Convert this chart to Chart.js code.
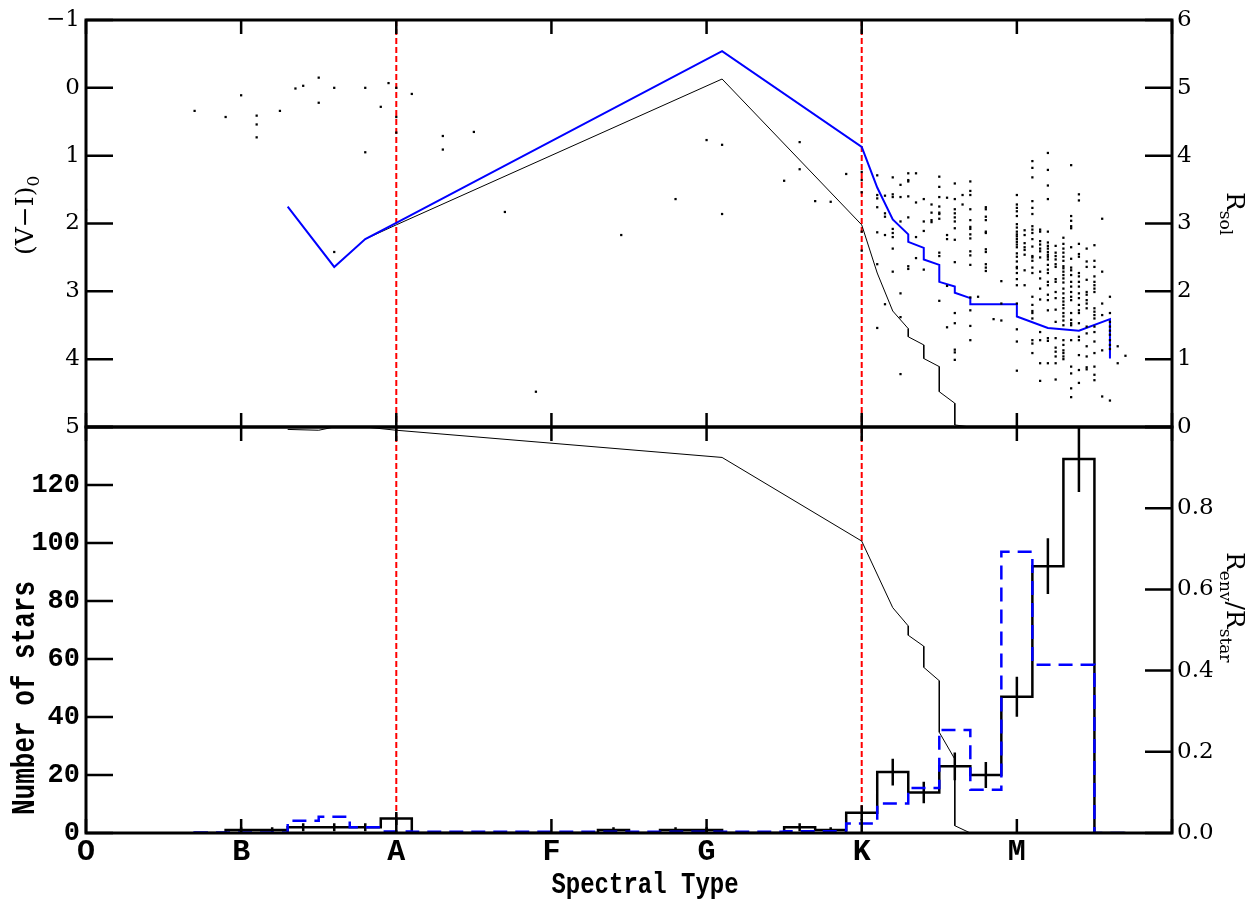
<!DOCTYPE html>
<html>
<head>
<meta charset="utf-8">
<script src="https://cdn.jsdelivr.net/npm/chart.js@4.4.1/dist/chart.umd.min.js"></script>
<style>
  html, body { margin: 0; padding: 0; background: #fff; }
  #wrap { position: relative; width: 1250px; height: 899px; }
  #wrap canvas { position: absolute; left: 0; top: 0; }
</style>
</head>
<body>
<div id="wrap">
  <canvas id="bottom" width="1250" height="899"></canvas>
  <canvas id="top" width="1250" height="899"></canvas>
</div>
<script>
// spectral type axis: O=0, B=10, A=20, F=30, G=40, K=50, M=60
const spectralLabels = ['O', 'B', 'A', 'F', 'G', 'K', 'M'];
const typeBoundaries = [20, 50];

// (V-I)0 of individual stars, early / scattered ones as [type, colour]
const earlyStars = [
  [0, 1.8], [7, 0.34], [9, 0.43], [10, 0.11], [11, 0.41], [11, 0.54], [11, 0.73],
  [12.5, 0.34], [13.5, 0.01], [14, -0.03], [15, -0.15], [15, 0.22], [16, 0.0], [16, 2.42],
  [18, 0.0], [18, 0.95], [19, 0.28], [19.5, -0.07], [20, 0.0], [20, 0.43], [20, 0.66],
  [21, 0.09], [23, 0.71], [23, 0.91], [25, 0.65], [27, 1.83], [29, 4.48], [34.5, 2.17],
  [38, 1.64], [40, 0.77], [41, 0.84], [41, 1.86], [45, 1.37], [46, 0.80], [46, 1.2],
  [47, 1.67], [48, 1.68], [49, 1.27], [50, 1.24], [50, 1.36], [50, 1.54], [50, 2.12], [50, 2.4]
];

// late types, one column per subtype
const lateColumns = [
  [51, [1.29, 1.58, 1.63, 1.76, 2.13, 2.6, 3.54]],
  [51.5, [1.59, 1.85, 1.90, 2.17, 3.19]],
  [52, [1.32, 1.57, 1.61, 2.08, 2.14, 2.20, 2.37, 2.71]],
  [52.5, [1.43, 1.61, 1.97, 3.03, 3.38, 4.22]],
  [53, [1.26, 1.36, 1.38, 1.60, 1.91, 2.63, 2.67]],
  [53.5, [1.26, 1.69, 2.20, 2.51]],
  [54, [1.64, 1.97, 2.11, 2.68]],
  [54.5, [1.72, 1.84, 1.95, 1.98]],
  [55, [1.31, 1.46, 1.61, 1.75, 1.84, 1.86, 1.93, 2.43, 2.48, 3.14]],
  [55.5, [1.62, 2.17, 2.23, 2.92, 3.53]],
  [56, [1.41, 1.64, 1.79, 1.85, 1.91, 1.97, 2.07, 2.24, 2.57, 3.32, 3.47, 3.86, 3.90, 4.01]],
  [56.5, [1.58, 1.72]],
  [57, [1.38, 1.52, 1.58, 1.79, 1.95, 2.05, 2.08, 2.16, 2.22, 2.41, 2.47, 2.61, 3.09, 3.28, 3.51, 3.72]],
  [57.5, [3.08]],
  [58, [1.76, 1.79, 1.90, 1.95, 2.12, 2.14, 2.38, 2.42, 2.60, 2.65, 2.70]],
  [58.5, [3.41]],
  [59, [2.85, 3.18, 3.43]],
  [60, [1.58, 1.72, 1.77, 1.82, 1.89, 2.01, 2.06, 2.12, 2.16, 2.19, 2.23, 2.27, 2.31, 2.35, 2.44,
        2.49, 2.56, 2.64, 2.66, 2.73, 2.82, 2.91, 3.18, 3.56, 3.74, 4.17]],
  [60.5, [2.10, 2.17, 2.29, 2.35, 2.39, 2.46, 2.69, 2.91]],
  [61, [1.08, 1.18, 1.32, 1.67, 1.77, 1.86, 2.04, 2.09, 2.14, 2.23, 2.34, 2.48, 2.50, 2.55, 2.65,
        2.73, 3.08, 3.20, 3.29, 3.32, 3.40, 3.72, 3.77, 3.91]],
  [61.5, [2.09, 2.12, 2.26, 2.31, 2.37, 2.41, 2.50, 2.71, 2.81, 2.96, 3.12, 3.60, 3.72, 4.06, 4.32]],
  [62, [0.96, 1.21, 1.44, 1.64, 2.12, 2.28, 2.33, 2.37, 2.42, 2.46, 2.49, 2.53, 2.61, 2.68, 2.73,
        2.86, 2.91, 3.05, 3.13, 3.28, 3.69, 3.73, 4.06]],
  [62.5, [2.33, 2.43, 2.48, 2.53, 2.60, 2.64, 2.82, 2.86, 3.01, 3.10, 3.27, 3.45, 3.69, 3.83, 3.89,
          3.96, 4.06, 4.30]],
  [63, [2.21, 2.30, 2.37, 2.43, 2.49, 2.55, 2.63, 2.66, 2.71, 2.76, 2.81, 2.87, 2.96, 3.03, 3.10,
        3.15, 3.20, 3.25, 3.32, 3.37, 3.43, 3.50, 3.72, 3.79, 3.87, 3.91, 3.96, 4.00]],
  [63.5, [1.14, 1.89, 1.96, 2.04, 2.07, 2.35, 2.52, 2.65, 2.69, 2.76, 2.86, 2.93, 3.01, 3.08, 3.13,
          3.32, 3.42, 3.47, 3.50, 3.72, 4.11, 4.21, 4.43, 4.56]],
  [64, [1.57, 1.66, 2.30, 2.45, 2.49, 2.73, 2.78, 2.86, 2.93, 3.03, 3.10, 3.20, 3.28, 3.32, 3.47,
        3.67, 3.72, 3.94, 4.16, 4.35]],
  [64.5, [2.37, 2.56, 2.64, 2.83, 3.01, 3.05, 3.13, 3.18, 3.25, 3.52, 3.62, 3.81, 3.96, 4.12, 4.15]],
  [65, [2.32, 2.55, 2.64, 2.78, 2.86, 2.91, 2.96, 3.01, 3.25, 3.30, 3.35, 3.40, 3.52, 3.60, 3.74,
        3.91, 4.11, 4.23, 4.31]],
  [65.5, [1.93, 2.71, 3.18, 3.35, 3.87, 4.55]],
  [66, [3.08, 3.32, 3.45, 3.52, 3.58, 3.64, 3.72, 3.79, 3.85, 4.61]],
  [66.5, [3.81, 4.06]],
  [67, [3.95]]
];

// stellar radius (R_sol) curves
const rsolBlueX = [13, 16, 18, 20, 41, 50, 51, 52, 53, 53, 54, 54, 55, 55, 56, 56, 57, 57, 60, 60, 62, 64, 66, 66];
const rsolBlue  = [3.25, 2.36, 2.77, 3.01, 5.54, 4.13, 3.53, 3.06, 2.84, 2.73, 2.64, 2.47, 2.39, 2.14,
                   2.07, 1.98, 1.90, 1.81, 1.81, 1.63, 1.46, 1.42, 1.59, 1.01];
const rsolBlackX = [18, 20, 41, 50, 51, 52, 53, 53, 54, 54, 55, 55, 56, 56, 57];
const rsolBlack  = [2.77, 2.98, 5.13, 2.98, 2.27, 1.71, 1.45, 1.33, 1.21, 1.01, 0.89, 0.52, 0.35, 0.03, 0];

// histogram, bins two subtypes wide
const binCenters = [8, 10, 12, 14, 16, 18, 20, 22, 24, 26, 28, 30, 32, 34, 36, 38, 40, 42, 44, 46,
                    48, 50, 52, 54, 56, 58, 60, 62, 64, 66];
const countAll   = [0, 1, 1, 2, 2, 2, 5, 0, 0, 0, 0, 0, 0, 1, 0, 1, 1, 0, 0, 2,
                    1, 7, 21, 14, 23, 20, 47, 92, 129, 0];
const countErr   = [0, 1, 1, 1.4, 1.4, 1.4, 2.2, 0, 0, 0, 0, 0, 0, 1, 0, 1, 1, 0, 0, 1.4,
                    1, 2.6, 4.6, 3.7, 4.8, 4.5, 6.9, 9.6, 11.4, 0];
const countBlue  = [0.2, 0.2, 0.2, 4.2, 5.6, 2, 0.5, 0.4, 0.4, 0.4, 0.4, 0.4, 0.4, 0.4, 0.4, 0.4, 0.4, 0.4, 0.4, 0.6,
                    0.6, 3.3, 10.2, 15.5, 35.5, 14.9, 97, 58, 58, 0];

// envelope fraction R_env / R_star
const renvX = [13, 15, 16, 18, 20, 41, 50, 52, 53, 53, 54, 54, 55, 55, 56, 56, 57];
const renv  = [0.994, 0.992, 1.0, 1.0, 0.992, 0.925, 0.719, 0.555, 0.51, 0.487, 0.46, 0.408, 0.375,
               0.248, 0.182, 0.018, 0.0];

const binHalf = 1;

const zip = (xs, ys) => xs.map((x, i) => ({ x, y: ys[i] }));

function steps(centers, counts) {
  const pts = [{ x: centers[0] - binHalf, y: 0 }];
  centers.forEach((c, i) => {
    pts.push({ x: c - binHalf, y: counts[i] }, { x: c + binHalf, y: counts[i] });
  });
  pts.push({ x: centers[centers.length - 1] + binHalf, y: 0 });
  return pts;
}

function errorBars() {
  const pts = [];
  binCenters.forEach((c, i) => {
    if (countAll[i] <= 0) return;
    pts.push({ x: c, y: countAll[i] - countErr[i] }, { x: c, y: countAll[i] + countErr[i] }, { x: c, y: null });
  });
  return pts;
}

const serifTick = { family: 'DejaVu Serif', size: 23 };
const monoTick = { family: 'Liberation Mono', size: 27, weight: 'bold' };

// inward tick marks on all four sides plus the box
const frame = {
  id: 'frame',
  afterDatasetsDraw(chart) {
    const { ctx, chartArea: a, scales } = chart;
    ctx.save();
    ctx.strokeStyle = '#000';
    ctx.lineWidth = 2.5;
    ctx.beginPath();
    scales.x.ticks.forEach(t => {
      const px = scales.x.getPixelForValue(t.value);
      ctx.moveTo(px, a.top); ctx.lineTo(px, a.top + 14);
      ctx.moveTo(px, a.bottom); ctx.lineTo(px, a.bottom - 14);
    });
    ['y', 'y2'].forEach(id => {
      const s = scales[id];
      const x0 = s.position === 'left' ? a.left : a.right;
      const dir = s.position === 'left' ? 1 : -1;
      s.ticks.forEach(t => {
        const py = s.getPixelForValue(t.value);
        ctx.moveTo(x0, py); ctx.lineTo(x0 + dir * 27, py);
      });
    });
    ctx.stroke();
    ctx.lineWidth = 3;
    ctx.strokeRect(a.left, a.top, a.right - a.left, a.bottom - a.top);
    ctx.restore();
  }
};

function drawRun(ctx, x, y, angle, parts) {
  ctx.save();
  ctx.translate(x, y);
  ctx.rotate(angle);
  ctx.fillStyle = '#000';
  ctx.textAlign = 'left';
  ctx.textBaseline = 'alphabetic';
  let cx = 0;
  parts.forEach(([text, font, dy]) => {
    ctx.font = font;
    ctx.fillText(text, cx, dy);
    cx += ctx.measureText(text).width;
  });
  ctx.restore();
}

// monospace bold label, stretched a little vertically like the plotting font
function drawMono(ctx, text, x, y, angle, size) {
  ctx.save();
  ctx.translate(x, y);
  ctx.rotate(angle);
  ctx.scale(1, 1.25);
  ctx.fillStyle = '#000';
  ctx.font = 'bold ' + size + 'px "Liberation Mono"';
  ctx.textAlign = 'center';
  ctx.textBaseline = 'alphabetic';
  ctx.fillText(text, 0, 0);
  ctx.restore();
}

const big = '25px "DejaVu Serif"';
const small = '17px "DejaVu Serif"';

const topTitles = {
  id: 'topTitles',
  afterDraw(chart) {
    const ctx = chart.ctx;
    drawRun(ctx, 33, 255, -Math.PI / 2, [['(V\u2212I)', big, 0], ['0', small, 6]]);
    drawRun(ctx, 1227, 192, Math.PI / 2, [['R', big, 0], ['sol', small, 7]]);
  }
};

const bottomTitles = {
  id: 'bottomTitles',
  afterDraw(chart) {
    const ctx = chart.ctx;
    drawRun(ctx, 1227, 552, Math.PI / 2,
      [['R', big, 0], ['env', small, 7], ['/', big, 0], ['R', big, 0], ['star', small, 7]]);
    drawMono(ctx, 'Number of stars', 34, 698, -Math.PI / 2, 26);
    drawMono(ctx, 'Spectral Type', 645, 893, 0, 24);
  }
};

const xAxis = (height, showLabels) => ({
  type: 'linear', min: 0, max: 70,
  grid: { display: false }, border: { display: false },
  ticks: {
    display: showLabels, stepSize: 10, autoSkip: false, maxRotation: 0, padding: -7,
    color: '#000', font: { family: 'Liberation Mono', size: 30, weight: 'bold' },
    callback: v => spectralLabels[v / 10] || ''
  },
  afterFit: s => { s.height = height; }
});

const yAxis = (pos, min, max, step, font, cb, extra) => Object.assign({
  type: 'linear', position: pos, min, max,
  grid: { display: false, drawTicks: false }, border: { display: false },
  ticks: { stepSize: step, color: '#000', font, padding: pos === 'left' ? 6 : 5, callback: cb },
  afterFit: s => { s.width = pos === 'left' ? 86 : 78; }
}, extra || {});

const common = {
  responsive: false, animation: false, events: [],
  plugins: { legend: { display: false }, tooltip: { enabled: false } }
};

const scatterPts = earlyStars.map(([x, y]) => ({ x, y }))
  .concat(lateColumns.flatMap(([x, ys]) => ys.map(y => ({ x, y }))));

const redTop = [];
typeBoundaries.forEach(b => redTop.push({ x: b, y: -1 }, { x: b, y: 5 }, { x: b, y: null }));

new Chart(document.getElementById('top'), {
  type: 'line',
  data: {
    datasets: [
      { data: scatterPts, yAxisID: 'y', showLine: false, pointStyle: 'rect', pointRadius: 1.6,
        pointBorderWidth: 0, pointBackgroundColor: '#000', order: 0 },
      { data: zip(rsolBlueX, rsolBlue), yAxisID: 'y2', borderColor: '#0000ff', borderWidth: 2,
        pointRadius: 0, order: 1 },
      { data: zip(rsolBlackX, rsolBlack), yAxisID: 'y2', borderColor: '#000', borderWidth: 1,
        pointRadius: 0, order: 2 },
      { data: redTop, yAxisID: 'y', borderColor: '#ff0000', borderWidth: 2, borderDash: [6, 3],
        pointRadius: 0, order: 3 }
    ]
  },
  options: Object.assign({}, common, {
    layout: { padding: { top: 20, left: 0, right: 0, bottom: 0 } },
    scales: {
      x: xAxis(472, false),
      y: yAxis('left', -1, 5, 1, serifTick, v => String(v).replace('-', '\u2212'), { reverse: true }),
      y2: yAxis('right', 0, 6, 1, serifTick, v => String(v))
    }
  }),
  plugins: [frame, topTitles]
});

const redBottom = [];
typeBoundaries.forEach(b => {
  const n = countAll[binCenters.indexOf(b)];
  redBottom.push({ x: b, y: 140 }, { x: b, y: n }, { x: b, y: null });
});

new Chart(document.getElementById('bottom'), {
  type: 'line',
  data: {
    datasets: [
      { data: steps(binCenters, countBlue), yAxisID: 'y', borderColor: '#0000ff', borderWidth: 2.5,
        borderDash: [14, 8], pointRadius: 0, order: 0 },
      { data: steps(binCenters, countAll), yAxisID: 'y', borderColor: '#000', borderWidth: 2.5,
        pointRadius: 0, order: 1 },
      { data: errorBars(), yAxisID: 'y', borderColor: '#000', borderWidth: 2.5, pointRadius: 0,
        spanGaps: false, order: 1 },
      { data: zip(renvX, renv), yAxisID: 'y2', borderColor: '#000', borderWidth: 1,
        pointRadius: 0, order: 2 },
      { data: redBottom, yAxisID: 'y', borderColor: '#ff0000', borderWidth: 2, borderDash: [6, 3],
        pointRadius: 0, order: 3 }
    ]
  },
  options: Object.assign({}, common, {
    layout: { padding: { top: 427, left: 0, right: 0, bottom: 0 } },
    scales: {
      x: xAxis(66, true),
      y: yAxis('left', 0, 140, 20, monoTick, v => (v >= 140 ? '' : String(v))),
      y2: yAxis('right', 0, 1, 0.2, serifTick, v => (v >= 0.999 ? '' : v.toFixed(1)))
    }
  }),
  plugins: [frame, bottomTitles]
});
</script>
</body>
</html>
